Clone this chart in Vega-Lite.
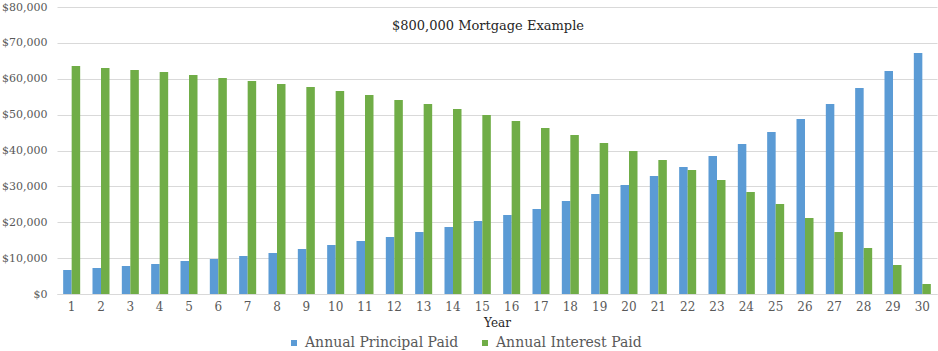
{
  "$schema": "https://vega.github.io/schema/vega-lite/v6.json",
  "width": 880,
  "height": 287,
  "autosize": {"type": "none"},
  "padding": {"left": 57, "top": 7, "right": 1, "bottom": 57},
  "background": "white",
  "title": {
    "text": "$800,000 Mortgage Example",
    "font": "DejaVu Serif",
    "fontSize": 13,
    "fontWeight": "normal",
    "color": "#262626",
    "anchor": "middle",
    "dx": -9,
    "offset": -32,
    "baseline": "top"
  },
  "data": {
    "values": [
      {"year": 1, "series": "Annual Principal Paid", "value": 6690},
      {"year": 2, "series": "Annual Principal Paid", "value": 7247},
      {"year": 3, "series": "Annual Principal Paid", "value": 7805},
      {"year": 4, "series": "Annual Principal Paid", "value": 8362},
      {"year": 5, "series": "Annual Principal Paid", "value": 9199},
      {"year": 6, "series": "Annual Principal Paid", "value": 9756},
      {"year": 7, "series": "Annual Principal Paid", "value": 10592},
      {"year": 8, "series": "Annual Principal Paid", "value": 11429},
      {"year": 9, "series": "Annual Principal Paid", "value": 12544},
      {"year": 10, "series": "Annual Principal Paid", "value": 13659},
      {"year": 11, "series": "Annual Principal Paid", "value": 14774},
      {"year": 12, "series": "Annual Principal Paid", "value": 15889},
      {"year": 13, "series": "Annual Principal Paid", "value": 17282},
      {"year": 14, "series": "Annual Principal Paid", "value": 18676},
      {"year": 15, "series": "Annual Principal Paid", "value": 20348},
      {"year": 16, "series": "Annual Principal Paid", "value": 22021},
      {"year": 17, "series": "Annual Principal Paid", "value": 23693},
      {"year": 18, "series": "Annual Principal Paid", "value": 25923},
      {"year": 19, "series": "Annual Principal Paid", "value": 27875},
      {"year": 20, "series": "Annual Principal Paid", "value": 30383},
      {"year": 21, "series": "Annual Principal Paid", "value": 32892},
      {"year": 22, "series": "Annual Principal Paid", "value": 35401},
      {"year": 23, "series": "Annual Principal Paid", "value": 38467},
      {"year": 24, "series": "Annual Principal Paid", "value": 41812},
      {"year": 25, "series": "Annual Principal Paid", "value": 45157},
      {"year": 26, "series": "Annual Principal Paid", "value": 48780},
      {"year": 27, "series": "Annual Principal Paid", "value": 52961},
      {"year": 28, "series": "Annual Principal Paid", "value": 57422},
      {"year": 29, "series": "Annual Principal Paid", "value": 62160},
      {"year": 30, "series": "Annual Principal Paid", "value": 67178},
      {"year": 1, "series": "Annual Interest Paid", "value": 63554},
      {"year": 2, "series": "Annual Interest Paid", "value": 63000},
      {"year": 3, "series": "Annual Interest Paid", "value": 62440},
      {"year": 4, "series": "Annual Interest Paid", "value": 61880},
      {"year": 5, "series": "Annual Interest Paid", "value": 61045},
      {"year": 6, "series": "Annual Interest Paid", "value": 60210},
      {"year": 7, "series": "Annual Interest Paid", "value": 59373},
      {"year": 8, "series": "Annual Interest Paid", "value": 58537},
      {"year": 9, "series": "Annual Interest Paid", "value": 57700},
      {"year": 10, "series": "Annual Interest Paid", "value": 56587},
      {"year": 11, "series": "Annual Interest Paid", "value": 55470},
      {"year": 12, "series": "Annual Interest Paid", "value": 54076},
      {"year": 13, "series": "Annual Interest Paid", "value": 52961},
      {"year": 14, "series": "Annual Interest Paid", "value": 51568},
      {"year": 15, "series": "Annual Interest Paid", "value": 49895},
      {"year": 16, "series": "Annual Interest Paid", "value": 48223},
      {"year": 17, "series": "Annual Interest Paid", "value": 46272},
      {"year": 18, "series": "Annual Interest Paid", "value": 44321},
      {"year": 19, "series": "Annual Interest Paid", "value": 42091},
      {"year": 20, "series": "Annual Interest Paid", "value": 39861},
      {"year": 21, "series": "Annual Interest Paid", "value": 37352},
      {"year": 22, "series": "Annual Interest Paid", "value": 34564},
      {"year": 23, "series": "Annual Interest Paid", "value": 31777},
      {"year": 24, "series": "Annual Interest Paid", "value": 28432},
      {"year": 25, "series": "Annual Interest Paid", "value": 25087},
      {"year": 26, "series": "Annual Interest Paid", "value": 21185},
      {"year": 27, "series": "Annual Interest Paid", "value": 17282},
      {"year": 28, "series": "Annual Interest Paid", "value": 12822},
      {"year": 29, "series": "Annual Interest Paid", "value": 8084},
      {"year": 30, "series": "Annual Interest Paid", "value": 2787}
    ]
  },
  "mark": {"type": "bar"},
  "encoding": {
    "x": {
      "field": "year",
      "type": "ordinal",
      "scale": {"paddingInner": 0.42, "paddingOuter": 0.21},
      "axis": {
        "title": "Year",
        "titleFont": "DejaVu Serif",
        "titleFontSize": 12,
        "titleFontWeight": "normal",
        "titleColor": "#262626",
        "titlePadding": 5,
        "labelAngle": 0,
        "labelFont": "DejaVu Serif",
        "labelFontSize": 12,
        "labelColor": "#595959",
        "labelPadding": 7,
        "ticks": false,
        "domainColor": "#D9D9D9",
        "domainWidth": 1
      }
    },
    "xOffset": {
      "field": "series",
      "type": "nominal",
      "sort": ["Annual Principal Paid", "Annual Interest Paid"]
    },
    "y": {
      "field": "value",
      "type": "quantitative",
      "scale": {"domain": [0, 80000], "nice": false},
      "axis": {
        "title": null,
        "format": "$,.0f",
        "values": [0, 10000, 20000, 30000, 40000, 50000, 60000, 70000, 80000],
        "labelOverlap": false,
        "labelFont": "DejaVu Serif",
        "labelFontSize": 11,
        "labelColor": "#595959",
        "labelPadding": 10,
        "ticks": false,
        "domain": false,
        "gridColor": "#D9D9D9",
        "gridWidth": 1
      }
    },
    "color": {
      "field": "series",
      "type": "nominal",
      "sort": ["Annual Principal Paid", "Annual Interest Paid"],
      "scale": {"range": ["#5B9BD5", "#70AD47"]},
      "legend": {
        "title": null,
        "orient": "none",
        "legendX": 230,
        "legendY": 329,
        "direction": "horizontal",
        "columns": 2,
        "columnPadding": 19,
        "symbolType": "square",
        "symbolSize": 36,
        "symbolStrokeWidth": 0,
        "symbolOpacity": 1,
        "labelFont": "DejaVu Serif",
        "labelFontSize": 14,
        "labelColor": "#595959",
        "labelOffset": 4,
        "labelLimit": 300
      }
    }
  },
  "config": {
    "font": "DejaVu Serif",
    "view": {"stroke": null},
    "legend": {"labelFont": "DejaVu Serif"},
    "axis": {"labelFont": "DejaVu Serif", "titleFont": "DejaVu Serif"}
  }
}
